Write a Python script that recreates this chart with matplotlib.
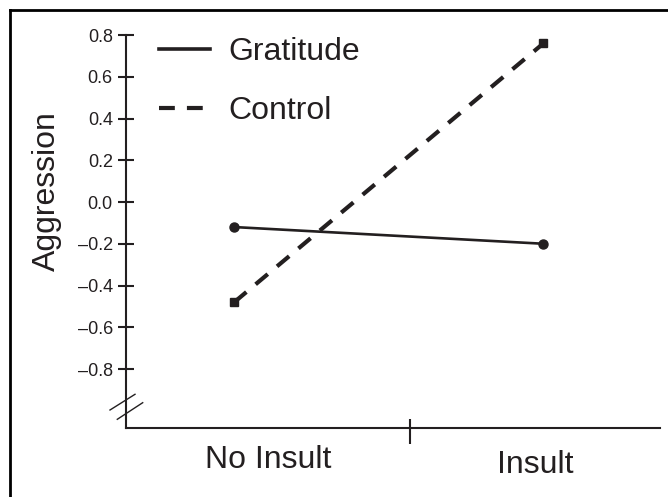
import matplotlib
matplotlib.use("Agg")
import matplotlib.pyplot as plt
from matplotlib.lines import Line2D
import matplotlib.transforms as mtransforms

plt.rcParams['font.family'] = ['Liberation Sans', 'DejaVu Sans']

# ---- data ----
conditions = ["No Insult", "Insult"]
x_pos = [0, 1]
gratitude = [-0.12, -0.20]
control = [-0.48, 0.76]
ytick_vals = [0.8, 0.6, 0.4, 0.2, 0.0, -0.2, -0.4, -0.6, -0.8]
ytick_labels = ["0.8", "0.6", "0.4", "0.2", "0.0", "\u20130.2", "\u20130.4", "\u20130.6", "\u20130.8"]
series_names = ["Gratitude", "Control"]

W, H = 668, 497
fig = plt.figure(figsize=(W / 100, H / 100), dpi=100)

# axes in pixel layout
ax_l, ax_r, ax_t, ax_b = 126, 660, 35, 428
ax = fig.add_axes([ax_l / W, 1 - ax_b / H, (ax_r - ax_l) / W, (ax_b - ax_t) / H])

ax.set_xlim(-0.350, 1.377)
ax.set_ylim(-1.0826, 0.8)

ink = '#231f20'
ax.plot(x_pos, gratitude, color=ink, lw=1.9, marker='o', markersize=6.5,
        solid_capstyle='butt', clip_on=False, zorder=3)
ax.plot(x_pos, control, color=ink, lw=3.0, marker='s', markersize=5.5,
        dashes=(3.8, 2.9), clip_on=False, zorder=3)

# spines
for s in ['top', 'right']:
    ax.spines[s].set_visible(False)
for s in ['left', 'bottom']:
    ax.spines[s].set_linewidth(1.5)
    ax.spines[s].set_color(ink)

# y ticks
ax.set_yticks(ytick_vals)
ax.set_yticklabels(ytick_labels)
ax.tick_params(axis='y', direction='inout', length=12.2, width=1.5, color=ink,
               labelsize=13, pad=3.4, labelcolor=ink)

# x category labels
ax.set_xticks([])
bt = mtransforms.blended_transform_factory(ax.transData, ax.transAxes)
ax.text(0.111, -0.1018, conditions[0], transform=bt,
        ha='center', va='baseline', fontsize=23, color=ink)
ax.text(0.974, -0.1145, conditions[1], transform=bt,
        ha='center', va='baseline', fontsize=23, color=ink)
# divider tick on x axis
ax.plot([0.568, 0.568], [-16 / 393, 9 / 393], transform=bt, color=ink, lw=1.5,
        clip_on=False, solid_capstyle='butt')

# axis break marks
aw, ah = ax_r - ax_l, ax_b - ax_t
for (x1, y1, x2, y2) in [(110, 410, 135, 394.3), (117.3, 419.3, 142.7, 402.7)]:
    ax.plot([(x1 - ax_l) / aw, (x2 - ax_l) / aw],
            [(ax_b - y1) / ah, (ax_b - y2) / ah],
            transform=ax.transAxes, color=ink, lw=1.0, clip_on=False)

# y label
fig.text(55 / W, 1 - 191 / H, "Aggression", rotation=90, rotation_mode='anchor',
         ha='center', va='baseline', fontsize=23, color=ink)

# legend
handles = [Line2D([], [], color=ink, lw=2.6),
           Line2D([], [], color=ink, lw=3.0, dashes=(3.8, 2.9))]
leg = ax.legend(handles, series_names, loc='upper left',
                bbox_to_anchor=(159 / W, 1 - 37 / H), bbox_transform=fig.transFigure,
                frameon=False, fontsize=23, handlelength=1.6, handletextpad=0.56,
                labelspacing=0.9, borderpad=0, borderaxespad=0)
for t in leg.get_texts():
    t.set_color(ink)

# frame border (left and top)
fig.add_artist(Line2D([10 / W, 10 / W], [0, 1 - 10 / H], transform=fig.transFigure,
                      color='black', lw=2.0, solid_capstyle='projecting'))
fig.add_artist(Line2D([10 / W, 1], [1 - 10 / H, 1 - 10 / H], transform=fig.transFigure,
                      color='black', lw=2.0, solid_capstyle='projecting'))

fig.savefig("out.png", dpi=100)
